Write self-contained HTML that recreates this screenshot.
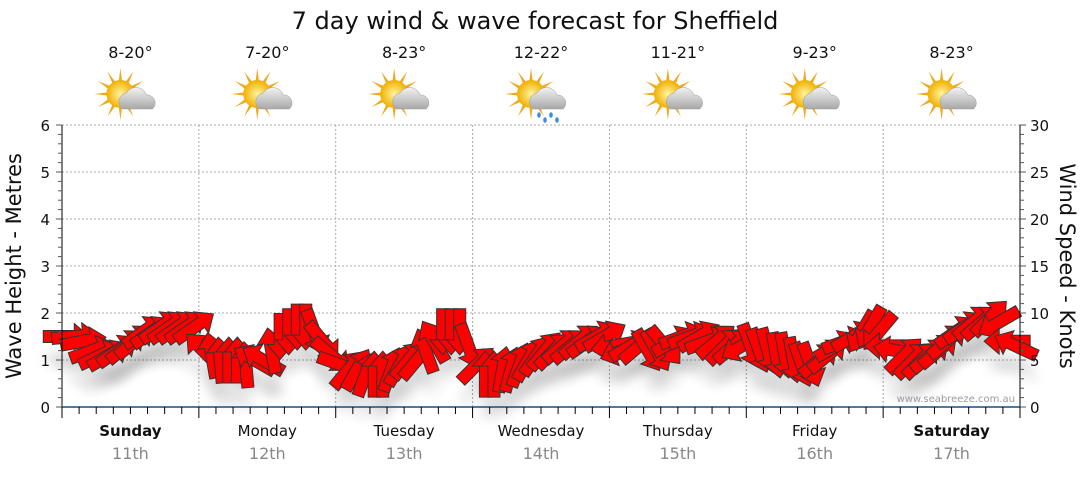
<!DOCTYPE html>
<html><head><meta charset="utf-8"><style>
body{margin:0;background:#fff;width:1080px;height:475px;overflow:hidden;font-family:"DejaVu Sans","Liberation Sans",sans-serif}
</style></head><body>
<svg id="c" width="1080" height="475" xmlns="http://www.w3.org/2000/svg" font-family="DejaVu Sans, Liberation Sans, sans-serif">
<defs>
<filter id="sh" x="-50%" y="-50%" width="200%" height="200%"><feGaussianBlur stdDeviation="6"/></filter>
<radialGradient id="sun" cx="50%" cy="50%" r="50%"><stop offset="0" stop-color="#fff4a0"/><stop offset="1" stop-color="#f0b000"/></radialGradient>
<linearGradient id="cloud" x1="0" y1="0" x2="0" y2="1"><stop offset="0" stop-color="#f2f2f2"/><stop offset="1" stop-color="#a8a8a8"/></linearGradient>
</defs>
<text x="535" y="29" text-anchor="middle" font-size="24" fill="#111">7 day wind &amp; wave forecast for Sheffield</text>
<g id="grid"></g><g id="shadows"></g><g id="arrows"></g><g id="axes"></g><g id="top"></g>
<text x="1015" y="402" text-anchor="end" font-size="10" fill="#99a">www.seabreeze.com.au</text>
<text transform="translate(21,266) rotate(-90)" text-anchor="middle" font-size="21" fill="#111">Wave Height - Metres</text>
<text transform="translate(1060,266) rotate(90)" text-anchor="middle" font-size="21" fill="#111">Wind Speed - Knots</text>
</svg>
<script>
const days=["Sunday","Monday","Tuesday","Wednesday","Thursday","Friday","Saturday"];
const dates=["11th","12th","13th","14th","15th","16th","17th"];
const temps=["8-20°","7-20°","8-23°","12-22°","11-21°","9-23°","8-23°"];
const rainy=[0,0,0,1,0,0,0];
const waveTicks=[0,1,2,3,4,5,6];
const windTicks=[0,5,10,15,20,25,30];
const windSpeed=[
7.5,7.5,7,6,5.5,5.5,6,6.5,7,8,8,8.5,8.5,8.5,8.5,8.5,
6,5.5,5,5,5,4.5,5,5,6,7.5,8,8.5,8.5,8,7,5.5,
4.5,4,4,3.5,3.5,3.5,4,4.5,5,5,6,7,8,8,8,6.5,
4.5,3.5,3.5,4,4,4.5,5,5.5,6,6,6.5,6.5,7,7,7.5,7.5,
6.5,6,6.5,6.5,6,6,6.5,7,7.5,7.5,7.5,7,7,6.5,6.5,6.5,
6.5,6,6,5.5,5.5,5,4.5,4.5,5,5.5,6.5,7,7.5,8,8.5,8,
6.5,6,5.5,5,5,5.5,6,7,8,8.5,9,9,9.5,9,7,6.5];
const windDir=[
0,-5,-10,-20,-25,-30,-35,-40,-40,-35,-35,-35,-35,-35,-35,-35,
-135,-100,-95,-90,-90,-95,-150,-150,-100,90,90,90,90,70,50,40,
20,-50,-60,-70,-90,-90,-70,-60,-50,-50,-110,-120,90,90,90,70,
-45,-90,-90,-80,-75,-70,-60,-55,-50,-45,-40,-40,-40,-35,-30,-30,
170,160,-30,-40,60,60,50,-30,-20,-20,-30,-20,-40,-45,-40,150,
70,70,75,80,80,80,70,70,-40,-40,-30,-20,-30,120,120,130,
180,-170,-45,-45,-45,-40,-40,-40,-35,-35,-40,-40,-45,150,180,-155];
const NS="http://www.w3.org/2000/svg";
const X0=62,X1=1020,Y0=407,Y1=125,DW=(X1-X0)/7;
const yW=m=>Y0-(m/6)*(Y0-Y1), yK=k=>Y0-(k/30)*(Y0-Y1);
const xI=i=>X0+(i+0.5)*DW/16;
function mk(t,a,p){const e=document.createElementNS(NS,t);for(const k in a)e.setAttribute(k,a[k]);(p||document.getElementById('c')).appendChild(e);return e;}
const G=id=>document.getElementById(id);
waveTicks.forEach(v=>{if(v>0){const l=mk('line',{x1:X0,x2:X1,y1:yW(v),y2:yW(v),stroke:'#aaa','stroke-dasharray':'2,2'},G('grid'));

}});
for(let d=1;d<7;d++){const l=mk('line',{x1:X0+d*DW,x2:X0+d*DW,y1:Y1,y2:Y0,stroke:'#aaa','stroke-dasharray':'2,2'},G('grid'));

}
const ax=G('axes');
mk('line',{x1:X0,x2:X0,y1:Y1,y2:Y0,stroke:'#000'},ax);
mk('line',{x1:X1,x2:X1,y1:Y1,y2:Y0,stroke:'#000'},ax);
mk('line',{x1:X0,x2:X1,y1:Y0,y2:Y0,stroke:'#1a4c80','stroke-width':1.5},ax);
for(let i=0;i<=30;i++){const y=Y0-i*(Y0-Y1)/30;mk('line',{x1:X0-(i%5?4:6),x2:X0,y1:y,y2:y,stroke:'#555'},ax);mk('line',{x1:X1,x2:X1+(i%5?4:6),y1:y,y2:y,stroke:'#555'},ax);}
waveTicks.forEach(v=>{const t=mk('text',{x:X0-12,y:yW(v)+6,'text-anchor':'end','font-size':15,fill:'#111'},ax);t.textContent=v;

});
windTicks.forEach(v=>{const t=mk('text',{x:X1+10,y:yK(v)+6,'font-size':15,fill:'#111'},ax);t.textContent=v;

});
for(let i=0;i<=56;i++){const x=X0+i*DW/8;mk('line',{x1:x,x2:x,y1:Y0,y2:Y0+(i%8?7:11),stroke:'#000'},ax);}
days.forEach((d,i)=>{const cx=X0+(i+0.5)*DW;
const t=mk('text',{x:cx,y:436,'text-anchor':'middle','font-size':15,fill:'#111','font-weight':(i==0||i==6)?'bold':'normal'},ax);t.textContent=d;


const t2=mk('text',{x:cx,y:459,'text-anchor':'middle','font-size':16,fill:'#888'},ax);t2.textContent=dates[i];


const t3=mk('text',{x:cx,y:58,'text-anchor':'middle','font-size':16,fill:'#111'},G('top'));t3.textContent=temps[i];


const g=mk('g',{transform:`translate(${cx-4},97)`},G('top'));


for(let r=0;r<12;r++){const a=r*Math.PI/6;mk('polygon',{points:`${-6+Math.cos(a)*26},${-3+Math.sin(a)*26} ${-6+Math.cos(a+0.15)*12},${-3+Math.sin(a+0.15)*12} ${-6+Math.cos(a-0.15)*12},${-3+Math.sin(a-0.15)*12}`,fill:'#f0a820'},g);}
mk('circle',{cx:-6,cy:-3,r:14,fill:'url(#sun)'},g);
mk('path',{d:'M-4,12 a9,9 0 0 1 4,-16 a11,11 0 0 1 20,2 a8,8 0 0 1 6,14 z',fill:'url(#cloud)',stroke:'#999','stroke-width':0.5},g);
if(rainy[i]){for(let k=0;k<4;k++)mk('ellipse',{cx:2+k*6,cy:18+(k%2)*5,rx:1.8,ry:2.8,fill:'#3a8ee0'},g);}
});
const apath='M-23,-6 L8,-6 L8,-13 L23,0 L8,13 L8,6 L-23,6 Z';
windSpeed.forEach((k,i)=>{const x=xI(i),y=yK(k);
const s=mk('path',{d:apath,transform:`translate(${x},${y+22}) rotate(${windDir[i]})`,fill:'#000',opacity:0.08,filter:'url(#sh)'},G('shadows'));


const a=mk('path',{d:apath,transform:`translate(${x},${y}) rotate(${windDir[i]})`,fill:'#ff0000',stroke:'#333','stroke-width':1},G('arrows'));

});
</script>
</body></html>
